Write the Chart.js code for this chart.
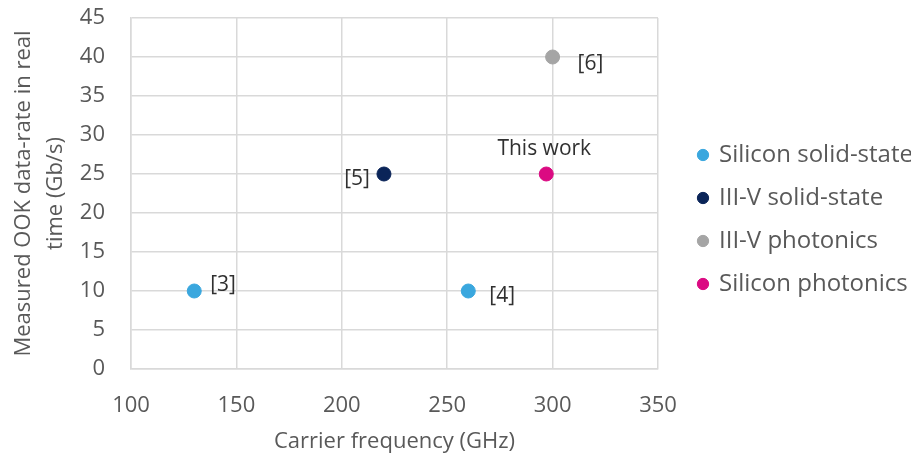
<!DOCTYPE html>
<html>
<head>
<meta charset="utf-8">
<script src="https://cdn.jsdelivr.net/npm/chart.js@4"></script>
<style>
  html, body { margin: 0; padding: 0; background: #fff; }
  #wrap { width: 911px; height: 459px; }
</style>
</head>
<body>
<div id="wrap"><canvas id="chart"></canvas></div>
<script>
// data
const seriesNames = ["Silicon solid-state", "III-V solid-state", "III-V photonics", "Silicon photonics"];
const siliconSolidFreq = [130, 260];
const siliconSolidRate = [10, 10];
const siliconSolidRefs = ["[3]", "[4]"];
const iiivSolidFreq = [220];
const iiivSolidRate = [25];
const iiivSolidRefs = ["[5]"];
const iiivPhotonicFreq = [300];
const iiivPhotonicRate = [40];
const iiivPhotonicRefs = ["[6]"];
const siliconPhotonicFreq = [297];
const siliconPhotonicRate = [25];
const siliconPhotonicRefs = ["This work"];
const xTicks = [100, 150, 200, 250, 300, 350];
const yTicks = [0, 5, 10, 15, 20, 25, 30, 35, 40, 45];

const colors = ["#3AA7DE", "#0A2458", "#A5A5A5", "#DB0A82"];
const FONT = "'Open Sans', 'Noto Sans', sans-serif";
const GRID = "#D9D9D9";
const TEXT = "#595959";

function toPoints(xs, ys) {
  return xs.map((x, i) => ({ x: x, y: ys[i] }));
}

// where each point label sits relative to its marker (style, not data)
const labelPlacement = [
  [{ dx: 16, dy: -6, align: "left" }, { dx: 21, dy: 5, align: "left" }],
  [{ dx: -14, dy: 5, align: "right" }],
  [{ dx: 25, dy: 7, align: "left" }],
  [{ dx: -2, dy: -25, align: "center" }]
];
const pointRefs = [siliconSolidRefs, iiivSolidRefs, iiivPhotonicRefs, siliconPhotonicRefs];

const pointLabels = {
  id: "pointLabels",
  afterDatasetsDraw(chart) {
    const ctx = chart.ctx;
    ctx.save();
    ctx.font = "21px " + FONT;
    ctx.fillStyle = "#303030";
    ctx.textBaseline = "middle";
    chart.data.datasets.forEach((ds, di) => {
      const meta = chart.getDatasetMeta(di);
      meta.data.forEach((pt, i) => {
        const p = labelPlacement[di][i];
        ctx.textAlign = p.align;
        ctx.fillText(pointRefs[di][i], pt.x + p.dx, pt.y + p.dy);
      });
    });
    ctx.restore();
  }
};

// keep the legend column at a fixed width and nudge it into place
const legendPlace = {
  id: "legendPlace",
  afterInit(chart) {
    const lg = chart.legend;
    const fit = lg.fit;
    lg.fit = function () {
      fit.call(this);
      this.width = 253;
    };
  },
  afterLayout(chart) {
    const lg = chart.legend;
    const dx = 680 - lg.left;
    lg.left += dx; lg.right += dx;
    lg.top -= 19; lg.bottom -= 19;
  }
};

new Chart(document.getElementById("chart"), {
  type: "scatter",
  data: {
    datasets: [
      { label: seriesNames[0], data: toPoints(siliconSolidFreq, siliconSolidRate) },
      { label: seriesNames[1], data: toPoints(iiivSolidFreq, iiivSolidRate) },
      { label: seriesNames[2], data: toPoints(iiivPhotonicFreq, iiivPhotonicRate) },
      { label: seriesNames[3], data: toPoints(siliconPhotonicFreq, siliconPhotonicRate) }
    ].map((ds, i) => Object.assign(ds, {
      backgroundColor: colors[i],
      borderColor: colors[i],
      pointRadius: 7,
      pointHoverRadius: 7,
      pointStyle: "circle"
    }))
  },
  options: {
    responsive: true,
    maintainAspectRatio: false,
    animation: false,
    layout: { padding: { left: 0, right: 0, top: 18, bottom: 0 } },
    plugins: {
      tooltip: { enabled: false },
      legend: {
        position: "right",
        labels: {
          usePointStyle: true,
          boxWidth: 8,
          boxHeight: 8,
          padding: 19,
          color: TEXT,
          font: { family: FONT, size: 24 }
        }
      }
    },
    scales: {
      x: {
        type: "linear",
        min: xTicks[0],
        max: xTicks[xTicks.length - 1],
        afterBuildTicks: (axis) => { axis.ticks = xTicks.map(v => ({ value: v })); },
        afterFit: (axis) => { axis.height = 90; },
        grid: { color: GRID, lineWidth: 1.5, drawTicks: false },
        border: { color: GRID, width: 1.5 },
        ticks: { color: TEXT, padding: 24, font: { family: FONT, size: 22 } },
        title: {
          display: true,
          text: "Carrier frequency (GHz)",
          color: TEXT,
          padding: { top: 0, bottom: 4 },
          font: { family: FONT, size: 22 }
        }
      },
      y: {
        min: yTicks[0],
        max: yTicks[yTicks.length - 1],
        afterBuildTicks: (axis) => { axis.ticks = yTicks.map(v => ({ value: v })); },
        afterFit: (axis) => { axis.width = 131; axis.paddingTop = 0; },
        grid: { color: GRID, lineWidth: 1.5, drawTicks: false },
        border: { color: GRID, width: 1.5 },
        ticks: { color: TEXT, padding: 26, font: { family: FONT, size: 22 } },
        title: {
          display: true,
          text: ["Measured OOK data-rate in real", "time (Gb/s)"],
          color: TEXT,
          padding: { top: 8, bottom: 0 },
          font: { family: FONT, size: 22, lineHeight: 1.45 }
        }
      }
    }
  },
  plugins: [pointLabels, legendPlace]
});
</script>
</body>
</html>
